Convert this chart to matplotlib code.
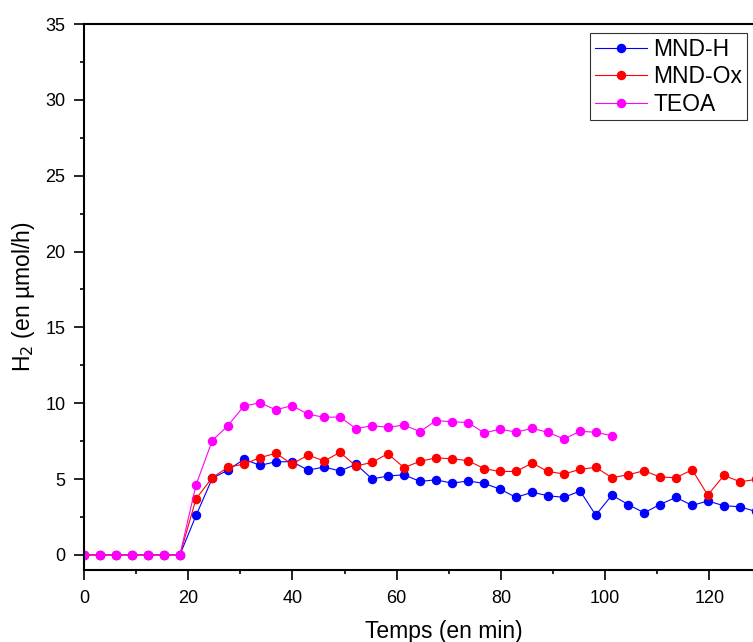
import matplotlib
matplotlib.use("Agg")
import matplotlib.pyplot as plt
from matplotlib.ticker import MultipleLocator

plt.rcParams['font.family'] = ['Liberation Sans', 'DejaVu Sans']

# sampling times (min)
temps = [0, 3.1, 6.1, 9.2, 12.3, 15.4, 18.4, 21.5, 24.6, 27.6, 30.7, 33.8, 36.8,
         39.9, 43.0, 46.1, 49.1, 52.2, 55.3, 58.3, 61.4, 64.5, 67.5, 70.6, 73.7,
         76.8, 79.8, 82.9, 86.0, 89.0, 92.1, 95.2, 98.2, 101.3, 104.4, 107.5,
         110.5, 113.6, 116.7, 119.7, 122.8, 125.9, 128.9]

# H2 production (umol/h)
mnd_h = [0, 0, 0, 0, 0, 0, 0, 2.60, 5.04, 5.59, 6.30, 5.90, 6.14, 6.14, 5.59,
         5.79, 5.53, 5.97, 5.00, 5.20, 5.28, 4.84, 4.95, 4.73, 4.87, 4.71, 4.34,
         3.79, 4.13, 3.90, 3.79, 4.21, 2.62, 3.94, 3.32, 2.77, 3.32, 3.79, 3.26,
         3.55, 3.24, 3.17, 2.86]
mnd_ox = [0, 0, 0, 0, 0, 0, 0, 3.70, 5.09, 5.77, 5.99, 6.41, 6.70, 5.99, 6.58,
          6.19, 6.76, 5.86, 6.10, 6.67, 5.75, 6.17, 6.39, 6.34, 6.21, 5.68, 5.50,
          5.50, 6.05, 5.50, 5.33, 5.64, 5.77, 5.09, 5.28, 5.55, 5.13, 5.09, 5.61,
          3.94, 5.24, 4.82, 4.97]
teoa = [0, 0, 0, 0, 0, 0, 0, 4.62, 7.53, 8.52, 9.82, 10.02, 9.56, 9.84, 9.27,
        9.07, 9.09, 8.32, 8.52, 8.41, 8.56, 8.12, 8.85, 8.78, 8.72, 8.04, 8.28,
        8.10, 8.34, 8.08, 7.64, 8.15, 8.08, 7.86]

fig = plt.figure(figsize=(7.53, 6.42), dpi=100)
# axes run past the right edge, like the cropped original
ax = fig.add_axes([0.1116, 0.1121, 0.955, 0.8505])

ax.plot(temps, mnd_h, '-o', color='#0000ff', lw=0.8, ms=5.8, label='MND-H')
ax.plot(temps, mnd_ox, '-o', color='#ff0000', lw=0.8, ms=5.8, label='MND-Ox')
ax.plot(temps[:len(teoa)], teoa, '-o', color='#ff00ff', lw=0.8, ms=5.8, label='TEOA')

ax.set_xlim(0, 138)
ax.set_ylim(-1, 35)
ax.xaxis.set_major_locator(MultipleLocator(20))
ax.xaxis.set_minor_locator(MultipleLocator(10))
ax.yaxis.set_major_locator(MultipleLocator(5))
ax.yaxis.set_minor_locator(MultipleLocator(2.5))
ax.tick_params(which='major', direction='out', length=7, width=1.2, labelsize=13)
ax.tick_params(which='minor', direction='out', length=3.2, width=1.2)
ax.tick_params(axis='x', which='major', pad=7.5)
ax.tick_params(axis='y', which='major', pad=6.5)

for s in ax.spines.values():
    s.set_linewidth(1.5)

ax.set_xlabel('Temps (en min)', fontsize=16.5, labelpad=9)
ax.set_ylabel('H$_2$ (en µmol/h)', fontsize=16.5, labelpad=6)

leg = fig.legend(loc='upper right', bbox_to_anchor=(747 / 753, 1 - 33 / 642),
                 fontsize=16.5, frameon=True, fancybox=False, borderaxespad=0,
                 handlelength=2.25, handletextpad=0.3, labelspacing=0.2,
                 borderpad=0.2)
leg.get_frame().set_edgecolor('black')
leg.get_frame().set_linewidth(0.8)

fig.savefig('out.png', dpi=100)
